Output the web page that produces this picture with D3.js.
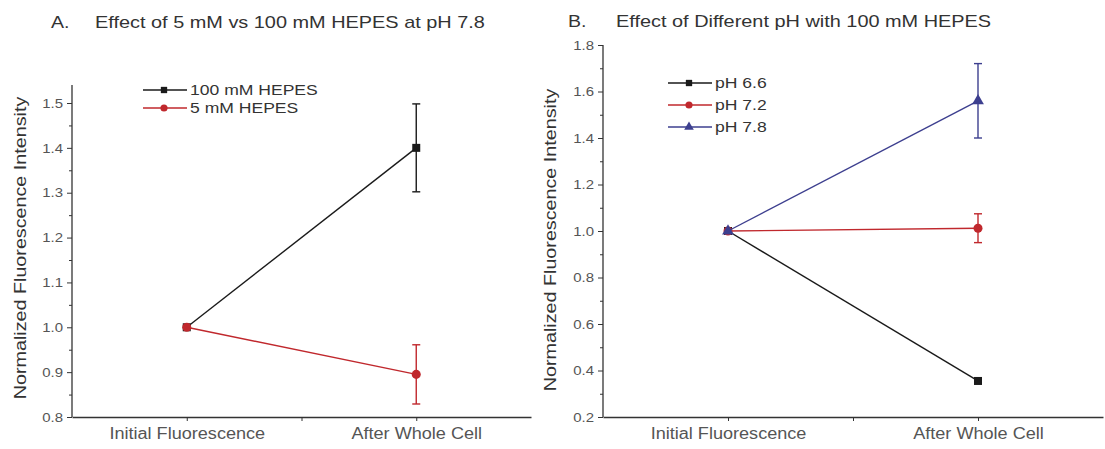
<!DOCTYPE html>
<html lang="en">
<head>
<meta charset="UTF-8">
<title>HEPES fluorescence</title>
<script src="https://d3js.org/d3.v7.min.js"></script>
<style>
    body { margin: 0; background: #fff; }
    svg { font-family: "Liberation Sans", Arial, sans-serif; }
    .axis path, .axis line { stroke: #333; }
    .axis text { fill: #555; }
</style>
</head>
<body>
<svg id="chart" width="1105" height="449"></svg>
<script>
    // categories and values
    const categories = ["Initial Fluorescence", "After Whole Cell"];

    const hepes100 = [1.0, 1.40];
    const hepes100Err = [0, 0.098];
    const hepes5 = [1.0, 0.895];
    const hepes5Err = [0, 0.066];

    const ph66 = [1.0, 0.355];
    const ph66Err = [0, 0.01];
    const ph72 = [1.0, 1.012];
    const ph72Err = [0, 0.062];
    const ph78 = [1.0, 1.56];
    const ph78Err = [0, 0.16];

    const ticksA = [0.8, 0.9, 1.0, 1.1, 1.2, 1.3, 1.4, 1.5];
    const ticksB = [0.2, 0.4, 0.6, 0.8, 1.0, 1.2, 1.4, 1.6, 1.8];

    const svg = d3.select("#chart");

    // the original text is set a little wider than Arial, so stretch it
    function stretch(sel, k) {
        sel.each(function () {
            const w = this.getComputedTextLength();
            if (w > 0) d3.select(this).attr("textLength", w * k).attr("lengthAdjust", "spacingAndGlyphs");
        });
    }

    function drawPanel(opt) {
        const g = svg.append("g");

        const x = d3.scaleLinear().domain([0.5, 2.5]).range([opt.left, opt.right]);
        const y = d3.scaleLinear().domain(opt.domain).range([opt.bottom, opt.top]);

        // axis line runs a bit past the last tick
        g.append("line")
            .attr("x1", opt.left).attr("x2", opt.left)
            .attr("y1", opt.bottom).attr("y2", opt.axisTop)
            .attr("stroke", "#333").attr("stroke-width", 1.3);

        // minor y ticks
        g.append("g")
            .attr("class", "axis")
            .attr("transform", `translate(${opt.left},0)`)
            .call(d3.axisLeft(y).tickValues(opt.minor).tickSize(3).tickFormat(""))
            .call(a => a.select(".domain").remove());

        // major y ticks
        const ya = g.append("g")
            .attr("class", "axis")
            .attr("transform", `translate(${opt.left},0)`)
            .call(d3.axisLeft(y).tickValues(opt.ticks).tickSize(5).tickPadding(4)
                .tickFormat(d3.format(".1f")));
        ya.select(".domain").remove();
        ya.selectAll("text").style("font-size", "13px").call(stretch, 1.15);

        // x axis
        const xa = g.append("g")
            .attr("class", "axis")
            .attr("transform", `translate(0,${opt.bottom})`)
            .call(d3.axisBottom(x).tickValues([1, 1.5, 2]).tickSize(4).tickSizeOuter(0).tickPadding(7)
                .tickFormat(d => d === 1 ? categories[0] : d === 2 ? categories[1] : ""));
        xa.select(".domain").attr("stroke-width", 1.3);
        xa.selectAll("text").style("font-size", "16px").attr("fill", "#333").call(stretch, 1.13);

        // y label
        g.append("text")
            .attr("transform", `translate(${opt.labelX},${opt.labelY}) rotate(-90)`)
            .attr("text-anchor", "middle")
            .style("font-size", "17px")
            .attr("fill", "#333")
            .text("Normalized Fluorescence Intensity")
            .call(stretch, 1.16);

        // title
        g.append("text").attr("x", opt.letterX).attr("y", opt.titleY)
            .style("font-size", "17px").attr("fill", "#333").text(opt.letter)
            .call(stretch, 1.15);
        g.append("text").attr("x", opt.titleX).attr("y", opt.titleY)
            .style("font-size", "17px").attr("fill", "#333").text(opt.title)
            .call(stretch, 1.17);

        const line = d3.line().x((d, i) => x(i + 1)).y(d => y(d));

        opt.series.forEach(s => {
            g.append("path")
                .datum(s.values)
                .attr("fill", "none")
                .attr("stroke", s.color)
                .attr("stroke-width", 1.4)
                .attr("d", line);

            // error bars
            s.values.forEach((v, i) => {
                const e = s.err[i];
                if (!e) return;
                const cx = x(i + 1);
                g.append("line").attr("x1", cx).attr("x2", cx)
                    .attr("y1", y(v - e)).attr("y2", y(v + e))
                    .attr("stroke", s.color).attr("stroke-width", 1.4);
                [v - e, v + e].forEach(c => {
                    g.append("line").attr("x1", cx - 4).attr("x2", cx + 4)
                        .attr("y1", y(c)).attr("y2", y(c))
                        .attr("stroke", s.color).attr("stroke-width", 1.4);
                });
            });

            const sym = d3.symbol().type(s.shape).size(s.shape === d3.symbolTriangle ? 60 : 64);
            g.selectAll(null)
                .data(s.values)
                .enter().append("path")
                .attr("transform", (d, i) => `translate(${x(i + 1)},${y(d)})`)
                .attr("d", sym)
                .attr("fill", s.color);
        });

        // legend
        opt.series.forEach((s, i) => {
            const ly = opt.legendY + i * opt.legendStep;
            g.append("line")
                .attr("x1", opt.legendX).attr("x2", opt.legendX + 44)
                .attr("y1", ly).attr("y2", ly)
                .attr("stroke", s.color).attr("stroke-width", 1.4);
            g.append("path")
                .attr("transform", `translate(${opt.legendX + 21},${ly})`)
                .attr("d", d3.symbol().type(s.shape).size(40))
                .attr("fill", s.color);
            g.append("text")
                .attr("x", opt.legendX + 47).attr("y", ly + 5)
                .style("font-size", "15px").attr("fill", "#333")
                .text(s.name)
                .call(stretch, 1.17);
        });
    }

    drawPanel({
        left: 72, right: 531, top: 103, bottom: 417, axisTop: 85,
        domain: [0.8, 1.5],
        ticks: ticksA,
        minor: d3.range(0.85, 1.5, 0.1),
        labelX: 26, labelY: 248,
        letter: "A.", letterX: 51,
        title: "Effect of 5 mM vs 100 mM HEPES at pH 7.8", titleX: 95, titleY: 28,
        legendX: 143, legendY: 90, legendStep: 18,
        series: [
            { name: "100 mM HEPES", values: hepes100, err: hepes100Err, color: "#1a1a1a", shape: d3.symbolSquare },
            { name: "5 mM HEPES", values: hepes5, err: hepes5Err, color: "#c0282d", shape: d3.symbolCircle }
        ]
    });

    drawPanel({
        left: 603, right: 1103, top: 45, bottom: 417, axisTop: 45,
        domain: [0.2, 1.8],
        ticks: ticksB,
        minor: d3.range(0.3, 1.8, 0.2),
        labelX: 556, labelY: 240,
        letter: "B.", letterX: 568,
        title: "Effect of Different pH with 100 mM HEPES", titleX: 616, titleY: 27,
        legendX: 668, legendY: 83, legendStep: 22,
        series: [
            { name: "pH 6.6", values: ph66, err: ph66Err, color: "#1a1a1a", shape: d3.symbolSquare },
            { name: "pH 7.2", values: ph72, err: ph72Err, color: "#c0282d", shape: d3.symbolCircle },
            { name: "pH 7.8", values: ph78, err: ph78Err, color: "#3d3f8f", shape: d3.symbolTriangle }
        ]
    });
</script>
</body>
</html>
